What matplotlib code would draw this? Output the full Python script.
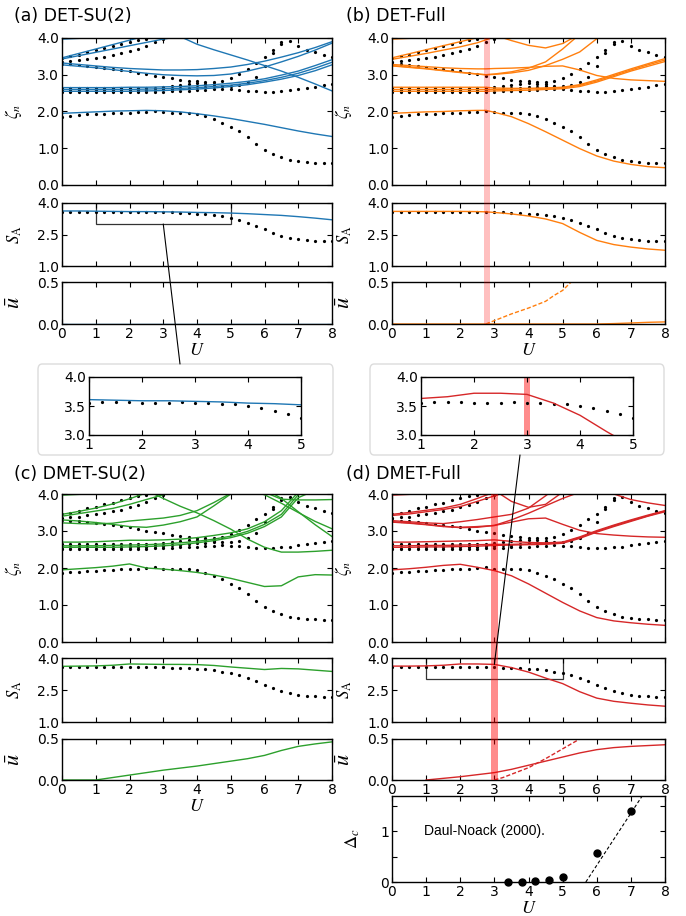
import numpy as np
import matplotlib
matplotlib.use('Agg')
import matplotlib.pyplot as plt
from matplotlib.patches import Rectangle, FancyBboxPatch, ConnectionPatch
from matplotlib.transforms import blended_transform_factory

plt.rcParams['mathtext.fontset'] = 'stix'
plt.rcParams['font.family'] = 'DejaVu Sans'

nan = np.nan

# ---------------- reference dots (same in all panels) ----------------
U_dots = np.linspace(0, 8, 33)
dot_low = [1.86, 1.88, 1.90, 1.92, 1.93, 1.94, 1.95, 1.96, 1.97, 1.98, 1.99, 2.02, 1.98, 1.97, 1.97, 1.96, 1.94,
           1.87, 1.79, 1.69, 1.58, 1.46, 1.30, 1.12, 0.95, 0.84, 0.75, 0.68, 0.65, 0.62, 0.61, 0.60, 0.60]
dot_c1 = [2.52, 2.52, 2.52, 2.52, 2.52, 2.52, 2.52, 2.52, 2.52, 2.52, 2.52, 2.53, 2.54, 2.55, 2.56, 2.57, 2.58,
          2.59, 2.60, 2.61, 2.60, 2.59, 2.57, 2.55, 2.54, 2.54, 2.56, 2.58, 2.61, 2.64, 2.68, 2.71, 2.74]
dot_c2 = [2.58, 2.58, 2.58, 2.58, 2.58, 2.58, 2.58, 2.58, 2.58, 2.58, 2.58, 2.59, 2.60, 2.61, 2.63, 2.65, 2.67,
          2.68, 2.70, 2.70, 2.70, 2.73, 2.80, 2.94, 3.23, 3.60, 3.85, nan, nan, nan, nan, nan, nan]
dot_c3 = [2.64, 2.64, 2.64, 2.64, 2.64, 2.64, 2.64, 2.64, 2.64, 2.64, 2.64, 2.65, 2.67, 2.69, 2.72, 2.75, 2.77,
          2.76, 2.74, nan, nan, nan, nan, nan, nan, nan, nan, nan, nan, nan, nan, nan, nan]
dot_s1 = [3.30, 3.28, 3.26, 3.24, 3.21, 3.19, 3.17, 3.14, 3.10, 3.06, 3.01, 2.97, 2.94, 2.90, 2.87, 2.84, 2.82,
          2.80, 2.80, 2.83, 2.92, 3.03, 3.15, 3.32, 3.47, 3.66, 3.88, 3.91, 3.79, 3.68, 3.61, 3.55, 3.48]
dot_A = [3.45, 3.50, 3.55, 3.61, 3.66, 3.72, 3.77, 3.83, 3.89, 3.94, 3.98, nan, nan, nan, nan, nan, nan,
         nan, nan, nan, nan, nan, nan, nan, nan, nan, nan, nan, nan, nan, nan, nan, nan]
dot_B = [3.35, 3.37, 3.39, 3.42, 3.45, 3.49, 3.53, 3.58, 3.64, 3.71, 3.79, 3.88, 3.97, nan, nan, nan, nan,
         nan, nan, nan, nan, nan, nan, nan, nan, nan, nan, nan, nan, nan, nan, nan, nan]
dot_SA = [3.56, 3.56, 3.56, 3.56, 3.56, 3.57, 3.57, 3.57, 3.56, 3.56, 3.56, 3.57, 3.56, 3.55, 3.54, 3.53, 3.50,
          3.47, 3.42, 3.36, 3.30, 3.18, 3.05, 2.90, 2.75, 2.58, 2.45, 2.35, 2.28, 2.24, 2.21, 2.19, 2.17]

# ---------------- model curves ----------------
U_l = [0, 0.5, 1, 1.5, 2, 2.5, 3, 3.5, 4, 4.5, 5, 5.5, 6, 6.5, 7, 7.5, 8]
U_b = [0, 0.5, 1, 1.5, 2, 2.5, 2.75, 3, 3.5, 4, 4.5, 5, 5.5, 6, 6.5, 7, 7.5, 8]

# (a) DET-SU(2)
a_low = [1.95, 1.97, 1.99, 2.01, 2.02, 2.03, 2.02, 1.99, 1.94, 1.88, 1.81, 1.73, 1.65, 1.56, 1.47, 1.39, 1.32]
a_c1 = [2.55, 2.55, 2.55, 2.55, 2.55, 2.56, 2.57, 2.59, 2.61, 2.64, 2.68, 2.73, 2.80, 2.88, 2.98, 3.11, 3.27]
a_c2 = [2.60, 2.60, 2.60, 2.60, 2.60, 2.61, 2.62, 2.63, 2.65, 2.68, 2.72, 2.77, 2.84, 2.93, 3.04, 3.18, 3.34]
a_c3 = [2.65, 2.65, 2.65, 2.65, 2.66, 2.66, 2.67, 2.68, 2.70, 2.73, 2.77, 2.82, 2.89, 2.99, 3.10, 3.25, 3.41]
a_m1 = [3.32, 3.28, 3.24, 3.20, 3.17, 3.15, 3.13, 3.13, 3.14, 3.17, 3.21, 3.28, 3.37, 3.48, 3.60, 3.74, 3.90]
a_m2 = [3.27, 3.23, 3.19, 3.14, 3.09, 3.04, 3.00, 2.98, 2.97, 2.98, 3.02, 3.10, 3.21, 3.35, 3.50, 3.67, 3.86]
a_t1 = [3.43, 3.52, 3.61, 3.70, 3.79, 3.88, 3.97, 4.04, 3.83, 3.68, 3.54, 3.40, 3.25, 3.10, 2.93, 2.75, 2.56]
a_t2 = [3.46, 3.58, 3.70, 3.82, 3.94, 4.06, nan, nan, nan, nan, nan, nan, nan, nan, nan, nan, nan]
a_t0 = [3.97, 3.99, 4.01, 4.05, nan, nan, nan, nan, nan, nan, nan, nan, nan, nan, nan, nan, nan]

# (b) DET-Full
b_low = [1.95, 1.97, 1.99, 2.00, 2.02, 2.03, 2.03, 1.98, 1.86, 1.67, 1.45, 1.22, 0.99, 0.79, 0.65, 0.56, 0.50, 0.47]
b_c1 = [2.55, 2.55, 2.55, 2.55, 2.55, 2.55, 2.55, 2.56, 2.57, 2.58, 2.60, 2.62, 2.68, 2.80, 2.95, 3.10, 3.23, 3.36]
b_c2 = [2.60, 2.60, 2.60, 2.60, 2.60, 2.60, 2.60, 2.60, 2.61, 2.62, 2.63, 2.65, 2.71, 2.83, 2.98, 3.13, 3.27, 3.40]
b_c3 = [2.66, 2.66, 2.66, 2.66, 2.66, 2.66, 2.66, 2.64, 2.63, 2.63, 2.64, 2.66, 2.73, 2.86, 3.01, 3.16, 3.30, 3.44]
b_m1 = [3.28, 3.25, 3.22, 3.19, 3.17, 3.16, 3.16, 3.17, 3.18, 3.20, 3.23, 3.24, 3.13, 2.98, 2.90, 2.86, 2.84, 2.82]
b_m2 = [3.25, 3.21, 3.17, 3.12, 3.07, 3.02, 3.00, 3.02, 3.08, 3.18, 3.35, 3.70, 4.10, nan, nan, nan, nan, nan]
b_m3 = [3.24, 3.20, 3.16, 3.11, 3.06, 3.02, 3.00, 3.01, 3.05, 3.12, 3.25, 3.42, 3.62, 3.98, 4.30, nan, nan, nan]
b_t1 = [3.46, 3.57, 3.68, 3.79, 3.90, 4.01, nan, nan, nan, nan, nan, nan, nan, nan, nan, nan, nan, nan]
b_t2 = [3.42, 3.50, 3.58, 3.67, 3.76, 3.87, 3.95, 4.03, nan, nan, nan, nan, nan, nan, nan, nan, nan, nan]
b_U = [nan, nan, nan, nan, nan, nan, nan, 4.08, 3.93, 3.80, 3.73, 3.85, 4.10, nan, nan, nan, nan, nan]
b_t0 = [3.97, 3.99, 4.01, 4.05, nan, nan, nan, nan, nan, nan, nan, nan, nan, nan, nan, nan, nan, nan]

# (c) DMET-SU(2)
c_low = [1.95, 1.98, 2.01, 2.05, 2.11, 2.00, 1.97, 1.93, 1.88, 1.81, 1.72, 1.61, 1.50, 1.52, 1.76, 1.82, 1.81]
c_c1 = [2.56, 2.56, 2.56, 2.56, 2.57, 2.58, 2.60, 2.63, 2.68, 2.74, 2.82, 2.94, 3.12, 3.38, 3.90, 4.10, nan]
c_c2 = [2.60, 2.60, 2.60, 2.61, 2.62, 2.63, 2.65, 2.68, 2.72, 2.78, 2.86, 2.99, 3.18, 3.45, 3.98, 4.10, nan]
c_c3 = [2.70, 2.70, 2.71, 2.73, 2.75, 2.75, 2.76, 2.78, 2.82, 2.88, 2.95, 3.06, 3.25, 3.55, 4.05, nan, nan]
c_dn = [nan, nan, nan, nan, nan, 4.10, 3.88, 3.67, 3.49, 3.28, 3.05, 2.78, 2.56, 2.43, 2.43, 2.45, 2.48]
c_m1 = [3.30, 3.27, 3.23, 3.18, 3.12, 3.10, 3.16, 3.25, 3.38, 3.68, 4.00, 4.30, nan, nan, nan, nan, nan]
c_m2 = [3.22, 3.20, 3.19, 3.21, 3.27, 3.31, 3.35, 3.42, 3.55, 3.77, 4.02, 4.30, nan, nan, nan, nan, nan]
c_t1 = [3.45, 3.53, 3.62, 3.73, 3.87, 4.03, nan, nan, nan, nan, nan, nan, nan, nan, nan, nan, nan]
c_t2 = [3.40, 3.47, 3.54, 3.61, 3.72, 3.85, 3.98, 4.10, nan, nan, nan, nan, nan, nan, nan, nan, nan]
c_t0 = [3.97, 3.99, 4.01, 4.05, nan, nan, nan, nan, nan, nan, nan, nan, nan, nan, nan, nan, nan]
c_r1 = [nan, nan, nan, nan, nan, nan, nan, nan, nan, nan, nan, nan, 4.05, 3.86, 3.84, 3.84, 3.85]
c_r2 = [nan, nan, nan, nan, nan, nan, nan, nan, nan, nan, nan, 4.10, 3.98, 3.75, 3.50, 3.26, 3.06]
c_r3 = [nan, nan, nan, nan, nan, nan, nan, nan, nan, nan, nan, nan, 4.15, 3.88, 3.52, 3.17, 2.85]

# (d) DMET-Full
d_low = [1.95, 1.98, 2.02, 2.07, 2.10, 2.02, 1.93, 1.79, 1.57, 1.32, 1.07, 0.84, 0.66, 0.57, 0.52, 0.48, 0.45]
d_c1 = [2.56, 2.56, 2.57, 2.57, 2.58, 2.59, 2.61, 2.62, 2.63, 2.64, 2.67, 2.80, 2.97, 3.12, 3.26, 3.40, 3.52]
d_c2 = [2.60, 2.60, 2.61, 2.61, 2.62, 2.63, 2.64, 2.64, 2.65, 2.66, 2.69, 2.82, 2.99, 3.14, 3.28, 3.41, 3.54]
d_c3 = [2.70, 2.70, 2.71, 2.72, 2.73, 2.74, 2.76, 2.72, 2.69, 2.68, 2.70, 2.84, 3.01, 3.16, 3.30, 3.43, 3.55]
d_m1 = [3.25, 3.22, 3.18, 3.13, 3.09, 3.10, 3.15, 3.24, 3.33, 3.35, 3.18, 3.02, 2.93, 2.89, 2.86, 2.84, 2.83]
d_m2 = [3.28, 3.25, 3.22, 3.20, 3.25, 3.31, 3.38, 3.45, 3.62, 3.95, 4.30, nan, nan, nan, nan, nan, nan]
d_m3 = [3.24, 3.21, 3.17, 3.12, 3.10, 3.12, 3.15, 3.30, 3.48, 3.68, 3.88, 4.05, nan, nan, nan, nan, nan]
d_t1 = [3.45, 3.50, 3.56, 3.62, 3.72, 3.88, 4.05, nan, nan, nan, nan, nan, nan, nan, nan, nan, nan]
d_t2 = [3.42, 3.46, 3.52, 3.58, 3.66, 3.80, 3.95, 4.10, nan, nan, nan, nan, nan, nan, nan, nan, nan]
d_U = [nan, nan, nan, nan, nan, nan, 4.10, 3.80, 3.64, 3.72, 4.05, nan, nan, nan, nan, nan, nan]
d_r = [nan, nan, nan, nan, nan, nan, nan, nan, nan, nan, nan, nan, 4.20, 4.00, 3.85, 3.76, 3.69]
d_t0 = [3.97, 3.99, 4.01, 4.05, nan, nan, nan, nan, nan, nan, nan, nan, nan, nan, nan, nan, nan]

# entanglement entropy S_A
sa_a = [3.62, 3.62, 3.61, 3.60, 3.59, 3.59, 3.58, 3.57, 3.55, 3.54, 3.52, 3.49, 3.45, 3.41, 3.35, 3.28, 3.20]
sa_b = [3.60, 3.60, 3.60, 3.60, 3.60, 3.59, 3.58, 3.55, 3.48, 3.38, 3.24, 3.02, 2.60, 2.22, 2.02, 1.90, 1.81, 1.75]
sa_c = [3.61, 3.62, 3.63, 3.66, 3.72, 3.71, 3.70, 3.70, 3.69, 3.65, 3.58, 3.52, 3.46, 3.51, 3.49, 3.43, 3.37]
sa_d = [3.62, 3.62, 3.63, 3.66, 3.72, 3.72, 3.70, 3.55, 3.34, 3.06, 2.80, 2.42, 2.12, 1.97, 1.88, 1.80, 1.74]

# order parameter u-bar
ub_a = [0.0, 0.0, 0.0, 0.0, 0.0, 0.0, 0.0, 0.0, 0.0, 0.0, 0.0, 0.0, 0.0, 0.0, 0.0, 0.0, 0.0]
ub_b = [0.0, 0.0, 0.0, 0.0, 0.0, 0.0, 0.0, 0.0, 0.0, 0.0, 0.0, 0.0, 0.0, 0.0, 0.005, 0.012, 0.02, 0.025]
ub_b_dU = [2.75, 3.0, 3.5, 4.0, 4.5, 4.75, 5.0, 5.25]
ub_b_d = [0.0, 0.04, 0.12, 0.19, 0.27, 0.34, 0.40, 0.50]
ub_c = [0.0, 0.0, 0.0, 0.03, 0.06, 0.09, 0.12, 0.145, 0.17, 0.20, 0.23, 0.26, 0.30, 0.36, 0.41, 0.44, 0.465]
ub_d = [nan, nan, 0.0, 0.02, 0.04, 0.065, 0.09, 0.13, 0.18, 0.23, 0.28, 0.33, 0.37, 0.395, 0.41, 0.42, 0.43]
ub_d_dU = [3.0, 3.25, 3.5, 4.0, 4.5, 5.0, 5.5]
ub_d_d = [0.0, 0.03, 0.07, 0.15, 0.26, 0.38, 0.50]

# charge gap, Daul-Noack
gap_U = [3.4, 3.8, 4.2, 4.6, 5.0, 6.0, 7.0]
gap_val = [0.0, 0.0, 0.01, 0.04, 0.10, 0.57, 1.41]
fit_U = [5.68, 7.35]
fit_val = [0.0, 1.72]

BLUE, ORANGE, GREEN, RED = '#1f77b4', '#ff7f0e', '#2ca02c', '#d62728'

W, H = 686, 916
fig = plt.figure(figsize=(6.86, 9.16), dpi=100)


def box(x0, y0, x1, y1):
    return [x0 / W, 1 - y1 / H, (x1 - x0) / W, (y1 - y0) / H]


def style(ax, xlabels=False):
    ax.tick_params(direction='in', top=True, right=True, length=3.5, width=0.8,
                   labelsize=10, pad=2, labelbottom=xlabels)
    for s in ax.spines.values():
        s.set_linewidth(1.0)


def column(x0, x1, ys, color, Ux, curves, sa, ub, ub_dash=None):
    axm = fig.add_axes(box(x0, ys[0][0], x1, ys[0][1]))
    axs = fig.add_axes(box(x0, ys[1][0], x1, ys[1][1]))
    axu = fig.add_axes(box(x0, ys[2][0], x1, ys[2][1]))
    for ser in [dot_low, dot_c1, dot_c2, dot_c3, dot_s1, dot_A, dot_B]:
        axm.plot(U_dots, ser, ls='none', marker='o', ms=2.3, color='k', mec='none')
    for c in curves:
        axm.plot(Ux, c, color=color, lw=1.0)
    axm.set_ylim(0, 4)
    axm.set_yticks([0, 1, 2, 3, 4])
    axm.set_yticklabels(['0.0', '1.0', '2.0', '3.0', '4.0'])
    axm.set_ylabel(r'$\zeta_n$', fontsize=12)

    axs.plot(U_dots, dot_SA, ls='none', marker='o', ms=2.3, color='k', mec='none')
    axs.plot(Ux, sa, color=color, lw=1.0)
    axs.set_ylim(1, 4)
    axs.set_yticks([1, 2.5, 4])
    axs.set_yticklabels(['1.0', '2.5', '4.0'])
    axs.set_ylabel(r'$S_{\rm A}$', fontsize=12)

    axu.plot(Ux, ub, color=color, lw=1.0)
    if ub_dash is not None:
        axu.plot(ub_dash[0], ub_dash[1], color=color, lw=1.0, ls='--', dashes=(3, 1.5))
    axu.set_ylim(0, 0.5)
    axu.set_yticks([0, 0.5])
    axu.set_yticklabels(['0.0', '0.5'])
    axu.set_ylabel(r'$\bar{u}$', fontsize=16)
    axu.set_xlabel(r'$U$', fontsize=13, labelpad=0)

    for ax in (axm, axs, axu):
        ax.set_xlim(0, 8)
        ax.set_xticks(range(9))
        style(ax, xlabels=(ax is axu))
        ax.yaxis.set_label_coords(-0.14, 0.5)
    return axm, axs, axu


rows1 = [(38, 185), (203, 266), (282, 324)]
rows2 = [(494, 642), (658, 722), (739, 780)]

am, as_, au = column(62, 332, rows1, BLUE, U_l,
                     [a_low, a_c1, a_c2, a_c3, a_m1, a_m2, a_t1, a_t2, a_t0], sa_a, ub_a)
bm, bs, bu = column(392, 665, rows1, ORANGE, U_b,
                    [b_low, b_c1, b_c2, b_c3, b_m1, b_m2, b_m3, b_t1, b_t2, b_U, b_t0], sa_b, ub_b,
                    (ub_b_dU, ub_b_d))
cm, cs, cu = column(62, 332, rows2, GREEN, U_l,
                    [c_low, c_c1, c_c2, c_c3, c_dn, c_m1, c_m2, c_t1, c_t2, c_t0, c_r1, c_r2, c_r3], sa_c, ub_c)
dm, ds, du = column(392, 665, rows2, RED, U_l,
                    [d_low, d_c1, d_c2, d_c3, d_m1, d_m2, d_m3, d_t1, d_t2, d_U, d_r, d_t0], sa_d, ub_d,
                    (ub_d_dU, ub_d_d))

# panel titles
for x, y, t in [(14, 16, '(a) DET-SU(2)'), (346, 16, '(b) DET-Full'),
                (14, 474, '(c) DMET-SU(2)'), (346, 474, '(d) DMET-Full')]:
    fig.text(x / W, 1 - y / H, t, fontsize=12.5, va='center', ha='left')

# zoom rectangles in S_A panels
for ax in (as_, ds):
    ax.add_patch(Rectangle((1, 3.0), 4, 1.0, fill=False, ec='#333333', lw=0.9))

# inset frames
for bx in [(38, 364, 333, 455), (370, 364, 664, 455)]:
    fig.add_artist(FancyBboxPatch((bx[0] / W, 1 - bx[3] / H), (bx[2] - bx[0]) / W, (bx[3] - bx[1]) / H,
                                  boxstyle='round,pad=0,rounding_size=0.006', transform=fig.transFigure,
                                  fc='white', ec='#dcdcdc', lw=1.0, zorder=-1))

ins = []
for (x0, x1), sa, U_x, col in [((89, 301), sa_a, U_l, BLUE), ((421, 633), sa_d, U_l, RED)]:
    ax = fig.add_axes(box(x0, 377, x1, 435))
    ax.plot(U_dots, dot_SA, ls='none', marker='o', ms=2.3, color='k', mec='none')
    ax.plot(U_x, sa, color=col, lw=1.0)
    ax.set_xlim(1, 5)
    ax.set_ylim(3, 4)
    ax.set_xticks([1, 2, 3, 4, 5])
    ax.set_yticks([3, 3.5, 4])
    ax.set_yticklabels(['3.0', '3.5', '4.0'])
    style(ax, xlabels=True)
    ins.append(ax)
ins[1].axvspan(2.94, 3.06, color='red', alpha=0.45, lw=0)

# highlighted U values (vertical bands through stacked panels)
for ax_ref, u0, w, ytop, ybot, alpha in [(bm, 2.78, 0.18, 38, 324, 0.25), (dm, 3.0, 0.2, 494, 780, 0.45)]:
    tr = blended_transform_factory(ax_ref.transData, fig.transFigure)
    fig.add_artist(Rectangle((u0 - w / 2, 1 - ybot / H), w, (ybot - ytop) / H, transform=tr,
                             color='red', alpha=alpha, lw=0, zorder=3))

# connecting lines to insets
fig.add_artist(ConnectionPatch(xyA=(3.0, 3.0), coordsA=as_.transData, xyB=(180 / W, 1 - 364 / H),
                               coordsB=fig.transFigure, color='k', lw=0.8, zorder=5))
fig.add_artist(ConnectionPatch(xyA=(3.0, 3.70), coordsA=ds.transData, xyB=(520 / W, 1 - 455 / H),
                               coordsB=fig.transFigure, color='k', lw=0.8, zorder=5))

# charge gap panel
ax = fig.add_axes(box(392, 796, 665, 882))
ax.plot(gap_U, gap_val, ls='none', marker='o', ms=5, color='k', clip_on=False)
ax.plot(fit_U, fit_val, color='k', lw=0.8, ls='--', dashes=(3, 2))
ax.text(0.95, 1.0, 'Daul-Noack (2000).', fontsize=10, va='center', family='Liberation Sans')
ax.set_xlim(0, 8)
ax.set_ylim(0, 1.7)
ax.set_xticks(range(9))
ax.set_yticks([0, 0.5, 1, 1.5])
ax.set_yticklabels(['0', '', '1', ''])
style(ax, xlabels=True)
ax.set_xlabel(r'$U$', fontsize=13, labelpad=0)
ax.set_ylabel(r'$\Delta_c$', fontsize=13)
ax.yaxis.set_label_coords(-0.11, 0.5)

fig.savefig('out.png', dpi=100)
